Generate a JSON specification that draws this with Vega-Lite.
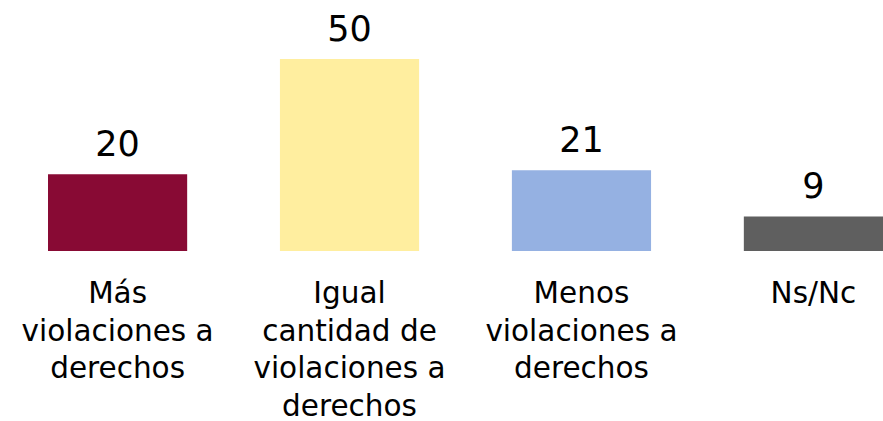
{
  "$schema": "https://vega.github.io/schema/vega-lite/v6.json",
  "width": 835,
  "height": 192,
  "autosize": {"type": "none"},
  "padding": {"left": 48, "top": 59, "right": 0, "bottom": 170},
  "background": "white",
  "config": {"view": {"stroke": null}, "font": "DejaVu Sans"},
  "data": {
    "values": [
      {"cat": "Más\nviolaciones a\nderechos", "order": 1, "value": 20, "color": "#880A34"},
      {"cat": "Igual\ncantidad de\nviolaciones a\nderechos", "order": 2, "value": 50, "color": "#FFEE9F"},
      {"cat": "Menos\nviolaciones a\nderechos", "order": 3, "value": 21, "color": "#95B1E2"},
      {"cat": "Ns/Nc", "order": 4, "value": 9, "color": "#5F5F5F"}
    ]
  },
  "encoding": {
    "x": {
      "field": "cat",
      "type": "nominal",
      "sort": {"field": "order"},
      "scale": {"paddingInner": 0.4, "paddingOuter": 0},
      "axis": null
    }
  },
  "layer": [
    {
      "mark": {"type": "bar"},
      "encoding": {
        "y": {"field": "value", "type": "quantitative", "scale": {"domain": [0, 50], "nice": false}, "axis": null},
        "color": {"field": "color", "type": "nominal", "scale": null}
      }
    },
    {
      "mark": {"type": "text", "baseline": "alphabetic", "dy": -18, "fontSize": 35, "color": "#000000"},
      "encoding": {
        "y": {"field": "value", "type": "quantitative"},
        "text": {"field": "value", "type": "quantitative"}
      }
    },
    {
      "mark": {"type": "text", "baseline": "alphabetic", "dy": 52, "fontSize": 29.5, "lineBreak": "\n", "lineHeight": 37.5, "color": "#000000"},
      "encoding": {
        "y": {"datum": 0, "type": "quantitative"},
        "text": {"field": "cat", "type": "nominal"}
      }
    }
  ]
}
